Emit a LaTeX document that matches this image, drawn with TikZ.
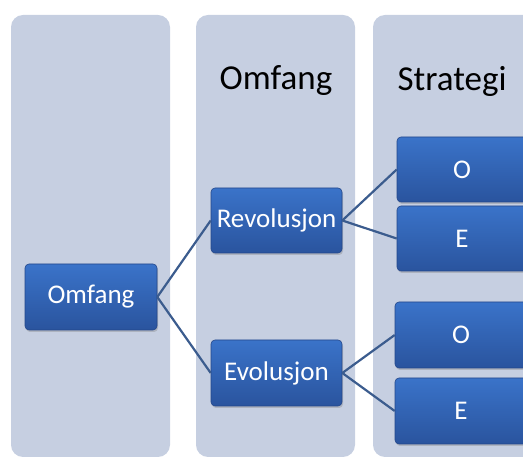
\documentclass[tikz,border=0pt]{standalone}
\usepackage{fontspec}
\setmainfont{Carlito}
\usetikzlibrary{shadows}
\definecolor{colbg}{HTML}{C6CFE1}
\definecolor{boxtop}{HTML}{3A73C9}
\definecolor{boxbot}{HTML}{2A549E}
\definecolor{boxedge}{HTML}{24478A}
\definecolor{linkc}{HTML}{3B5C8E}
\tikzset{
  colbox/.style={fill=colbg, rounded corners=12pt},
  hdr/.style={font=\fontsize{35}{40}\selectfont, text=black},
  blk/.style={draw=boxedge, line width=0.6pt, rounded corners=4pt, top color=boxtop, bottom color=boxbot,
    text=white, font=\fontsize{27}{30}\selectfont,
    drop shadow={opacity=0.35, shadow xshift=1pt, shadow yshift=-2pt}},
  link/.style={draw=linkc, line width=2.2pt}
}
\begin{document}
\begin{tikzpicture}[x=1pt,y=1pt]
\useasboundingbox (0,0) rectangle (523,458);
\clip (0,0) rectangle (523,458);
% columns
\path[colbox] (11,1) rectangle (170,443);
\path[colbox] (196,1) rectangle (355,443);
\path[colbox] (373,1) rectangle (560,443);
% headers
\node[hdr] (h1) at (276,377) {Omfang};
\node[hdr] (h2) at (452,377) {Strategi};
% nodes
\node[blk, minimum width=132pt, minimum height=66pt] (om) at (91,161) {Omfang};
\node[blk, minimum width=131pt, minimum height=65pt] (rev) at (276.5,237.5) {Revolusjon};
\node[blk, minimum width=131pt, minimum height=66pt] (evo) at (276.5,85) {Evolusjon};
\node[blk, minimum width=130pt, minimum height=65pt] (o1) at (462,288.5) {O};
\node[blk, minimum width=130pt, minimum height=65pt] (e1) at (462,219.5) {E};
\node[blk, minimum width=132pt, minimum height=66pt] (o2) at (461,123) {O};
\node[blk, minimum width=132pt, minimum height=66pt] (e2) at (461,47) {E};
% links
\draw[link] (om.east) -- (rev.west);
\draw[link] (om.east) -- (evo.west);
\draw[link] (rev.east) -- (o1.west);
\draw[link] (rev.east) -- (e1.west);
\draw[link] (evo.east) -- (o2.west);
\draw[link] (evo.east) -- (e2.west);
\end{tikzpicture}
\end{document}
